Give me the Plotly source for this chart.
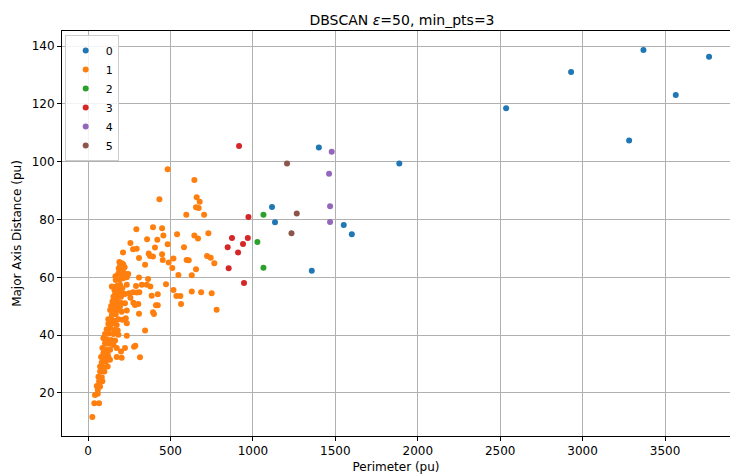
import plotly.graph_objects as go

# ---- data (Perimeter, Major Axis Distance) per DBSCAN cluster ----
labels = ["0", "1", "2", "3", "4", "5"]
colors = ["#1f77b4", "#ff7f0e", "#2ca02c", "#d62728", "#9467bd", "#8c564b"]

c0_x = [3369, 2930, 3565, 3767, 3282, 2536, 1888, 1400, 1116, 1134, 1551, 1600, 1357]
c0_y = [138.6, 131.0, 123.1, 136.3, 107.3, 118.5, 99.4, 104.9, 84.3, 79.0, 78.1, 74.9, 62.3]

c1_pts = [
    (483, 97.4), (645, 93.7), (433, 87.0), (659, 87.7), (677, 86.1), (655, 84.2), (671, 84.0),
    (596, 81.6), (704, 81.6), (293, 76.6), (394, 77.3), (449, 77.0), (540, 74.9), (645, 74.5),
    (667, 73.4), (730, 75.2), (358, 73.2), (420, 73.0), (457, 74.5), (257, 71.9), (273, 69.7),
    (295, 69.9), (406, 70.3), (483, 71.4), (582, 70.4), (212, 68.6), (309, 66.7), (368, 68.2),
    (376, 67.4), (394, 67.2), (449, 68.0), (453, 66.0), (518, 66.5), (598, 66.0), (611, 65.9),
    (722, 67.4), (744, 66.8), (766, 64.9), (346, 64.3), (489, 65.1), (511, 63.2), (655, 62.8),
    (548, 60.8), (629, 60.7), (309, 59.9), (364, 59.4), (473, 57.6), (378, 56.8), (291, 57.0),
    (326, 57.4), (311, 54.8), (273, 54.8), (518, 55.6), (629, 55.1), (686, 54.8), (750, 54.5),
    (536, 53.5), (560, 53.5), (386, 53.6), (423, 54.1), (412, 50.3), (423, 50.3), (564, 50.8),
    (309, 47.4), (394, 47.9), (400, 47.3), (780, 48.8), (346, 41.6), (235, 39.8), (279, 36.0),
    (287, 36.3), (315, 32.3),
    (190, 65.3), (206, 64.9), (214, 64.4), (194, 63.9), (186, 63.0), (210, 63.1), (222, 63.5),
    (198, 62.3), (216, 61.6), (166, 60.4), (184, 61.3), (204, 60.8), (226, 61.2), (244, 61.1),
    (168, 59.1), (194, 59.3), (214, 59.7), (235, 60.0),
    (144, 56.8), (174, 57.0), (194, 57.4), (235, 57.4), (356, 57.4), (160, 55.6), (184, 55.9),
    (208, 56.2), (164, 54.2), (184, 54.5), (204, 54.7), (224, 54.2), (249, 54.5), (295, 54.7),
    (154, 53.3), (180, 53.1), (200, 53.3), (257, 52.9),
    (148, 51.6), (174, 51.6), (198, 51.2), (224, 51.0), (275, 51.2), (285, 50.4), (305, 50.8),
    (140, 50.1), (168, 50.1), (194, 49.9),
    (134, 48.7), (154, 48.5), (178, 48.7), (204, 48.1), (235, 48.5), (144, 47.0), (168, 47.2),
    (123, 45.5), (144, 45.3), (164, 45.0), (184, 45.5), (208, 45.3), (229, 45.8), (235, 44.1),
    (123, 43.9), (148, 43.9), (174, 43.5),
    (113, 42.0), (134, 42.4), (160, 41.8), (180, 41.6), (103, 40.4), (128, 40.6), (154, 40.4),
    (184, 40.1),
    (93, 38.9), (113, 38.6), (140, 38.3), (164, 38.1), (103, 37.2), (128, 37.0), (154, 36.6),
    (174, 35.5), (224, 35.5),
    (87, 35.5), (107, 35.1), (134, 34.9), (93, 33.7), (119, 33.5), (200, 34.3),
    (79, 32.4), (99, 32.0), (123, 32.4), (174, 32.4), (204, 32.2), (83, 30.5), (107, 30.8),
    (133, 31.5),
    (73, 29.1), (93, 28.9), (119, 29.1), (73, 27.4), (99, 27.4),
    (63, 25.6), (83, 25.4), (67, 24.0), (87, 24.0),
    (53, 22.4), (73, 22.2), (59, 21.0), (42, 19.3), (59, 19.7), (38, 16.4), (67, 16.4), (26, 11.7),
]
c1_x = [p[0] for p in c1_pts]
c1_y = [p[1] for p in c1_pts]

c2_x = [1064, 1027, 1064]
c2_y = [81.6, 72.2, 63.3]

c3_x = [916, 973, 873, 969, 940, 847, 910, 853, 946]
c3_y = [105.4, 80.9, 73.6, 73.6, 71.5, 70.4, 68.6, 63.1, 58.0]

c4_x = [1462, 1468, 1468, 1478]
c4_y = [95.8, 84.6, 79.1, 103.4]

c5_x = [1207, 1266, 1234]
c5_y = [99.4, 82.1, 75.2]

xs_all = [c0_x, c1_x, c2_x, c3_x, c4_x, c5_x]
ys_all = [c0_y, c1_y, c2_y, c3_y, c4_y, c5_y]

x_ticks = [0, 500, 1000, 1500, 2000, 2500, 3000, 3500]
y_ticks = [20, 40, 60, 80, 100, 120, 140]

fig = go.Figure()
for name, xs, ys, col in zip(labels, xs_all, ys_all, colors):
    fig.add_trace(go.Scatter(
        x=xs, y=ys, mode="markers", name=name,
        marker=dict(color=col, size=6, line=dict(width=0)),
    ))

fig.update_layout(
    width=730, height=475,
    margin=dict(l=62, r=0, t=31, b=39),
    paper_bgcolor="white", plot_bgcolor="white",
    font=dict(family="DejaVu Sans", size=12, color="black"),
    title=dict(text="DBSCAN <i>ε</i>=50, min_pts=3", x=402 / 730, xanchor="center",
               yref="container", y=1 - 20 / 475, yanchor="middle",
               font=dict(size=14, color="black")),
    showlegend=True,
    legend=dict(x=0.004, y=0.99, xanchor="left", yanchor="top",
                bordercolor="#cccccc", borderwidth=1, bgcolor="rgba(255,255,255,0.85)",
                font=dict(size=11), tracegroupgap=0, itemsizing="trace"),
    xaxis=dict(range=[-158, 3894], tickvals=x_ticks, showgrid=True, gridcolor="#b0b0b0",
               gridwidth=0.8, showline=True, linecolor="black", linewidth=1, mirror=True,
               ticks="outside", ticklen=4, tickcolor="black", zeroline=False,
               automargin=False,
               title=dict(text="Perimeter (pu)", standoff=5, font=dict(size=12))),
    yaxis=dict(range=[5.1, 145.2], tickvals=y_ticks, showgrid=True, gridcolor="#b0b0b0",
               gridwidth=0.8, showline=True, linecolor="black", linewidth=1, mirror=False,
               ticks="outside", ticklen=4, tickcolor="black", zeroline=False,
               automargin=False,
               title=dict(text="Major Axis Distance (pu)", standoff=7, font=dict(size=12))),
)

fig.write_html("out.html")
